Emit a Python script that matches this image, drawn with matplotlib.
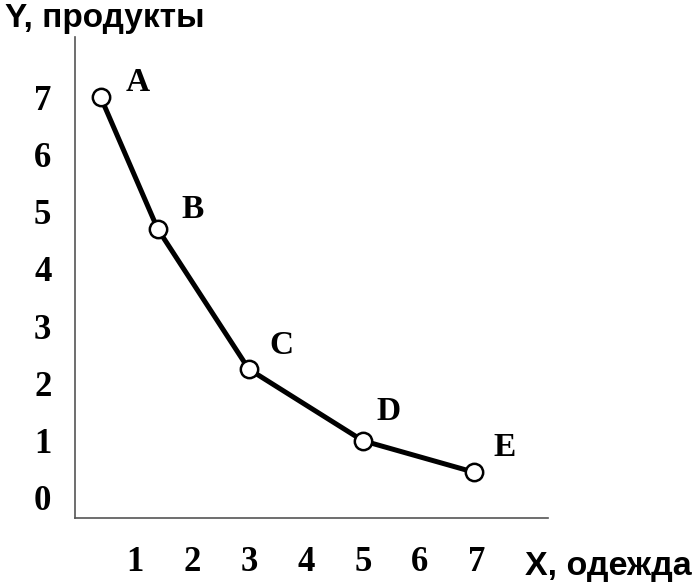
import matplotlib
matplotlib.use("Agg")
import matplotlib.pyplot as plt

# Data
point_names = ["A", "B", "C", "D", "E"]
x_clothes = [0.4, 1.4, 3.0, 5.0, 6.95]
y_food = [7.0, 4.7, 2.25, 1.0, 0.45]
x_ticks = [1, 2, 3, 4, 5, 6, 7]
y_ticks = [0, 1, 2, 3, 4, 5, 6, 7]
label_offsets = [(37, 15), (35, 19), (33, 24), (26, 29), (31, 25)]

fig = plt.figure(figsize=(7.0, 5.86), dpi=100)
ax = fig.add_axes([75/700, 1-518/586, (548-75)/700, (518-37)/586])

ax.plot(x_clothes, y_food, color="black", lw=3.6, zorder=2,
        solid_joinstyle="round")
ax.plot(x_clothes, y_food, ls="none", marker="o", ms=12.5, mfc="white",
        mec="black", mew=1.8, zorder=3)

for name, x, y, (dx, dy) in zip(point_names, x_clothes, y_food, label_offsets):
    ax.annotate(name, (x, y), xytext=(dx, dy), textcoords="offset pixels",
                ha="center", va="center", fontsize=24, fontweight="bold",
                family="Liberation Serif")

ax.set_xlim(-0.05, 8.25)
ax.set_ylim(-0.35, 8.05)
ax.set_xticks(x_ticks)
ax.set_xticklabels([str(t) for t in x_ticks])
ax.set_yticks(y_ticks)
ax.set_yticklabels([str(t) for t in y_ticks])
ax.tick_params(length=0, labelsize=25)
ax.tick_params(axis="x", pad=20)
ax.tick_params(axis="y", pad=17)
for lab in ax.get_xticklabels() + ax.get_yticklabels():
    lab.set_fontfamily("Liberation Serif")
    lab.set_fontweight("bold")

for s in ["top", "right"]:
    ax.spines[s].set_visible(False)
for s in ["left", "bottom"]:
    ax.spines[s].set_color("#555555")
    ax.spines[s].set_linewidth(1.2)

fig.text(5/700, 1-19/586, "Y, продукты", ha="left", va="center",
         fontsize=24, fontweight="bold", family="Liberation Sans")
fig.text(692/700, 1-567/586, "X, одежда", ha="right", va="center",
         fontsize=24.5, fontweight="bold", family="Liberation Sans")

fig.savefig("out.png", dpi=100, facecolor="white")
